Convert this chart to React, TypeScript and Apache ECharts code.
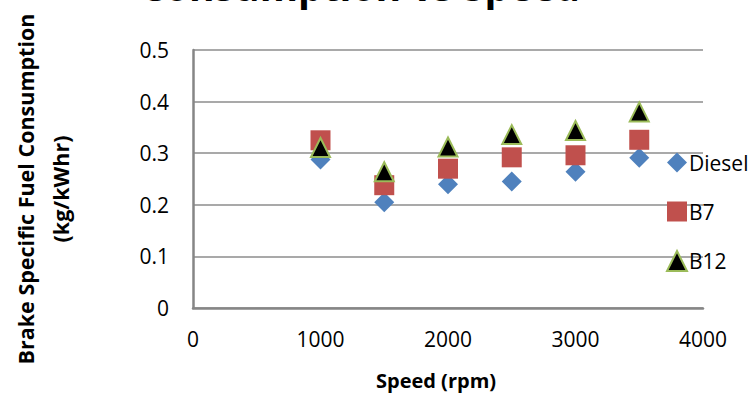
import React, { useEffect, useRef } from "react";
import * as echarts from "echarts";

const speeds = [1000, 1500, 2000, 2500, 3000, 3500];
const diesel = [0.288, 0.205, 0.240, 0.245, 0.264, 0.291];
const b7 = [0.325, 0.238, 0.270, 0.292, 0.296, 0.326];
const b12 = [0.311, 0.264, 0.312, 0.336, 0.344, 0.380];
const seriesNames = ["Diesel", "B7", "B12"];
const titleText = "Consumption vs Speed";
const xName = "Speed (rpm)";
const yName = "Brake Specific Fuel Consumption\n(kg/kWhr)";

const FONT = "'Open Sans', 'Noto Sans', sans-serif";

export default function App() {
  const ref = useRef<HTMLDivElement>(null);
  useEffect(() => {
    if (!ref.current) return;
    const chart = echarts.init(ref.current, null, { renderer: "svg" });
    const pair = (vals: number[]) => speeds.map((s, i) => [s, vals[i]]);
    chart.setOption({
      animation: false,
      backgroundColor: "#ffffff",
      textStyle: { fontFamily: FONT },
      graphic: [
        {
          type: "text",
          left: 140,
          top: -34,
          style: {
            text: titleText,
            fontFamily: FONT,
            fontSize: 39,
            fontWeight: "bold",
            fill: "#000000",
          },
        },
      ],
      grid: { left: 193, right: 53, top: 50, bottom: 90, containLabel: false, outerBoundsMode: "none" },
      legend: {
        orient: "vertical",
        left: 661,
        top: 147,
        itemWidth: 20,
        itemHeight: 20,
        itemGap: 28,
        textStyle: { fontSize: 21, color: "#000", fontFamily: FONT, padding: [0, 0, 0, -3] },
        data: seriesNames,
      },
      xAxis: {
        type: "value",
        min: 0,
        max: 4000,
        interval: 1000,
        name: xName,
        nameLocation: "middle",
        nameGap: 62,
        nameTextStyle: { fontSize: 20, fontWeight: "bold", color: "#000", fontFamily: FONT, padding: [0, 24, 0, 0] },
        axisLine: { show: true, lineStyle: { color: "#868686", width: 2.5 } },
        axisTick: { show: false },
        axisLabel: { fontSize: 21, color: "#000", margin: 20, fontFamily: FONT, formatter: (v: number) => String(v) },
        splitLine: { show: false },
      },
      yAxis: {
        type: "value",
        min: 0,
        max: 0.5,
        interval: 0.1,
        name: yName,
        nameLocation: "middle",
        nameGap: 115,
        nameTextStyle: { fontSize: 21.5, fontWeight: "bold", color: "#000", fontFamily: FONT, lineHeight: 35, padding: [0, 20, 0, 0] },
        axisLine: { show: true, lineStyle: { color: "#868686", width: 2.5 } },
        axisTick: { show: false },
        axisLabel: { fontSize: 21, color: "#000", margin: 24, fontFamily: FONT },
        splitLine: { show: true, lineStyle: { color: "#8c8c8c", width: 1.5 } },
      },
      series: [
        {
          name: seriesNames[0],
          type: "scatter",
          symbol: "diamond",
          symbolSize: 20,
          itemStyle: { color: "#4F81BD", opacity: 1 },
          data: pair(diesel),
          z: 2,
        },
        {
          name: seriesNames[1],
          type: "scatter",
          symbol: "rect",
          symbolSize: 20,
          itemStyle: { color: "#C0504D", opacity: 1 },
          data: pair(b7),
          z: 3,
        },
        {
          name: seriesNames[2],
          type: "scatter",
          symbol: "triangle",
          symbolSize: 19,
          itemStyle: { color: "#000000", borderColor: "#9BBB59", borderWidth: 2, opacity: 1 },
          data: pair(b12),
          z: 4,
        },
      ],
    });
    return () => chart.dispose();
  }, []);
  return <div ref={ref} style={{ width: 756, height: 398, position: "absolute", left: 0, top: 0 }} />;
}
